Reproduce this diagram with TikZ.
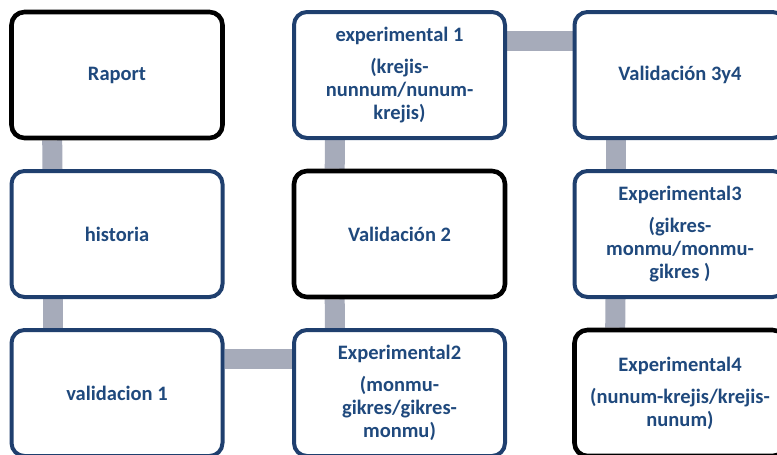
\documentclass[tikz,border=0pt]{standalone}
\usepackage{fontspec}
\setmainfont{Carlito}
\usetikzlibrary{backgrounds}
\definecolor{boxblue}{HTML}{1F3F6E}
\definecolor{txtblue}{HTML}{1F497D}
\definecolor{linkgray}{HTML}{A6ABBA}

\begin{document}
\begin{tikzpicture}[x=1pt,y=-1pt,
  box/.style={draw=boxblue,line width=4pt,rounded corners=13pt,fill=white,
    minimum width=211pt,minimum height=126pt,align=center,text=txtblue,
    font=\fontsize{20.5}{23}\selectfont\bfseries,inner sep=2pt},
  blackbox/.style={box,draw=black,line width=4.6pt},
  link/.style={draw=linkgray,line width=20pt}]
  \useasboundingbox (0,0) rectangle (777,455);
  \clip (0,0) rectangle (777,455);
  % left column
  \node[blackbox] (raport) at (117,75) {Raport};
  \node[box] (hist) at (117,234) {historia};
  \node[box] (val1) at (117,393) {validacion 1};
  % middle column
  \node[box] (exp1) at (399.5,75) {experimental 1\\[9pt](krejis-\\nunnum/nunum-\\krejis)};
  \node[blackbox] (val2) at (399.5,234) {Validación 2};
  \node[box] (exp2) at (399.5,393) {Experimental2\\[9pt](monmu-\\gikres/gikres-\\monmu)};
  % right column (cut by the page edge)
  \node[box] (val34) at (680,75) {Validación 3y4};
  \node[box] (exp3) at (680,234) {Experimental3\\[9pt](gikres-\\monmu/monmu-\\gikres )};
  \node[blackbox] (exp4) at (680,393) {Experimental4\\[9pt](nunum-krejis/krejis-\\nunum)};
  % grey links behind the boxes
  \begin{scope}[on background layer]
    \draw[link] ([xshift=43pt]raport.south west) -- ([xshift=43pt]hist.north west);
    \draw[link] ([xshift=43pt]hist.south west) -- ([xshift=43pt]val1.north west);
    \draw[link] ([yshift=-31pt]val1.north east) -- ([yshift=-31pt]exp2.north west);
    \draw[link] ([xshift=43pt]exp2.north west) -- ([xshift=43pt]val2.south west);
    \draw[link] ([xshift=43pt]val2.north west) -- ([xshift=43pt]exp1.south west);
    \draw[link] ([yshift=-31pt]exp1.north east) -- ([yshift=-31pt]val34.north west);
    \draw[link] ([xshift=43pt]val34.south west) -- ([xshift=43pt]exp3.north west);
    \draw[link] ([xshift=43pt]exp3.south west) -- ([xshift=43pt]exp4.north west);
  \end{scope}
\end{tikzpicture}
\end{document}
